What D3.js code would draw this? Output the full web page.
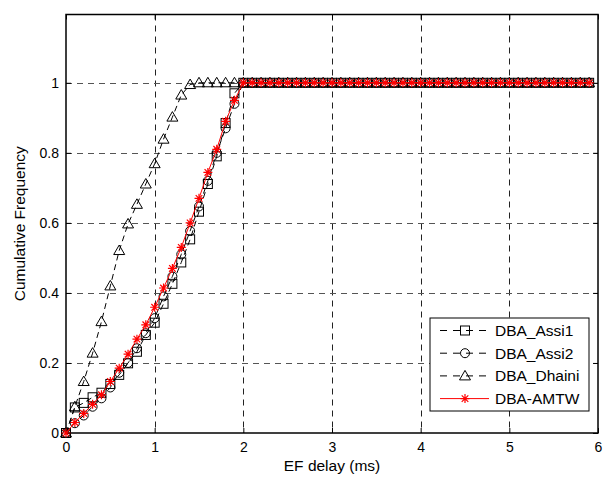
<!DOCTYPE html>
<html>
<head>
<meta charset="utf-8">
<script src="https://cdn.jsdelivr.net/npm/d3@7"></script>
<style>
  body { margin: 0; background: #fff; }
  svg { display: block; }
  text { font-family: "Liberation Sans", Arial, Helvetica, sans-serif; fill: #000; }
</style>
</head>
<body>
<svg id="chart" width="608" height="478"></svg>
<script>
// ---------------- DATA ----------------
const delays = [0,0.1,0.2,0.3,0.4,0.5,0.6,0.7,0.8,0.9,1.0,1.1,1.2,1.3,1.4,1.5,1.6,1.7,1.8,1.9,
                2.0,2.1,2.2,2.3,2.4,2.5,2.6,2.7,2.8,2.9,3.0,3.1,3.2,3.3,3.4,3.5,3.6,3.7,3.8,3.9,
                4.0,4.1,4.2,4.3,4.4,4.5,4.6,4.7,4.8,4.9,5.0,5.1,5.2,5.3,5.4,5.5,5.6,5.7,5.8,5.9];

const assi1 = [0,0.073,0.086,0.102,0.115,0.14,0.166,0.199,0.232,0.28,0.315,0.369,0.426,0.487,0.553,0.632,0.711,0.79,0.885,0.97,
               1,1,1,1,1,1,1,1,1,1,1,1,1,1,1,1,1,1,1,1,
               1,1,1,1,1,1,1,1,1,1,1,1,1,1,1,1,1,1,1,1];
const assi2 = [0,0.028,0.05,0.075,0.099,0.13,0.172,0.2,0.242,0.285,0.328,0.39,0.447,0.51,0.577,0.647,0.72,0.8,0.87,0.94,
               1,1,1,1,1,1,1,1,1,1,1,1,1,1,1,1,1,1,1,1,
               1,1,1,1,1,1,1,1,1,1,1,1,1,1,1,1,1,1,1,1];
const dhaini = [0,0.075,0.147,0.228,0.318,0.42,0.521,0.597,0.653,0.711,0.769,0.839,0.902,0.965,0.995,1,1,1,1,1,
                1,1,1,1,1,1,1,1,1,1,1,1,1,1,1,1,1,1,1,1,
                1,1,1,1,1,1,1,1,1,1,1,1,1,1,1,1,1,1,1,1];
const amtw = [0,0.03,0.056,0.082,0.109,0.147,0.185,0.225,0.268,0.309,0.359,0.414,0.47,0.53,0.6,0.67,0.744,0.81,0.89,0.95,
              1,1,1,1,1,1,1,1,1,1,1,1,1,1,1,1,1,1,1,1,
              1,1,1,1,1,1,1,1,1,1,1,1,1,1,1,1,1,1,1,1];

const seriesNames = ["DBA_Assi1", "DBA_Assi2", "DBA_Dhaini", "DBA-AMTW"];
const xTicks = [0,1,2,3,4,5,6];
const yTicks = [0,0.2,0.4,0.6,0.8,1];
const xLabel = "EF delay (ms)";
const yLabel = "Cumulative Frequency";

// ---------------- LAYOUT ----------------
const L = 66, R = 598, T = 14.5, B = 433;
const svg = d3.select("#chart");
const x = d3.scaleLinear().domain([0, 6]).range([L, R]);
const y = d3.scaleLinear().domain([0, 1.195]).range([B, T]);

// grid
const grid = svg.append("g");
grid.selectAll("line.gx").data(xTicks.filter(t => t > 0 && t < 6)).join("line")
  .attr("x1", d => Math.round(x(d)) + 0.5).attr("x2", d => Math.round(x(d)) + 0.5)
  .attr("y1", T).attr("y2", B)
  .attr("stroke", "#222").attr("stroke-width", 1).attr("stroke-dasharray", "6,5");
grid.selectAll("line.gy").data(yTicks.filter(t => t > 0)).join("line")
  .attr("x1", L).attr("x2", R)
  .attr("y1", d => Math.round(y(d)) + 0.5).attr("y2", d => Math.round(y(d)) + 0.5)
  .attr("stroke", "#555").attr("stroke-width", 1).attr("stroke-dasharray", "6,5");

// axes (ticks inward)
const tickLen = 5;
const axB = svg.append("g").attr("transform", `translate(0,${B})`)
  .call(d3.axisBottom(x).tickValues(xTicks).tickSize(-tickLen).tickPadding(9).tickFormat(d3.format("d")));
const axT = svg.append("g").attr("transform", `translate(0,${T})`)
  .call(d3.axisTop(x).tickValues(xTicks).tickSize(-tickLen).tickFormat(""));
const axL = svg.append("g").attr("transform", `translate(${L},0)`)
  .call(d3.axisLeft(y).tickValues(yTicks).tickSize(-tickLen).tickPadding(7).tickFormat(d => d === 0 ? "0" : (d === 1 ? "1" : d3.format(".1f")(d))));
const axR = svg.append("g").attr("transform", `translate(${R},0)`)
  .call(d3.axisRight(y).tickValues(yTicks).tickSize(-tickLen).tickFormat(""));
[axB, axT, axL, axR].forEach(a => {
  a.select(".domain").remove();
  a.selectAll(".tick line").attr("stroke", "#000").attr("stroke-width", 1);
  a.selectAll(".tick text").style("font-size", "14px").style("font-family", "'Liberation Sans', Arial, sans-serif");
});

// frame
svg.append("rect").attr("x", L).attr("y", T).attr("width", R - L).attr("height", B - T)
  .attr("fill", "none").attr("stroke", "#000").attr("stroke-width", 1.5);

// labels
svg.append("text").attr("x", (L + R) / 2).attr("y", 471).attr("text-anchor", "middle")
  .style("font-size", "15.5px").text(xLabel);
svg.append("text").attr("transform", `translate(25,${(T + B) / 2}) rotate(-90)`)
  .attr("text-anchor", "middle").style("font-size", "15.5px").text(yLabel);

// ---------------- SERIES ----------------
const series = [
  { name: seriesNames[0], values: assi1, color: "#000", dash: "6,4", marker: "square" },
  { name: seriesNames[1], values: assi2, color: "#000", dash: "6,4", marker: "circle" },
  { name: seriesNames[2], values: dhaini, color: "#000", dash: "6,4", marker: "triangle" },
  { name: seriesNames[3], values: amtw, color: "#ff0000", dash: null, marker: "star" }
];

function drawMarker(g, type, cx, cy, color) {
  if (type === "square") {
    g.append("rect").attr("x", cx - 4.5).attr("y", cy - 4.5).attr("width", 9).attr("height", 9)
      .attr("fill", "none").attr("stroke", color).attr("stroke-width", 1);
  } else if (type === "circle") {
    g.append("circle").attr("cx", cx).attr("cy", cy).attr("r", 4.5)
      .attr("fill", "none").attr("stroke", color).attr("stroke-width", 1);
  } else if (type === "triangle") {
    g.append("path").attr("d", `M${cx},${cy - 5.5}L${cx + 5.5},${cy + 4}L${cx - 5.5},${cy + 4}Z`)
      .attr("fill", "none").attr("stroke", color).attr("stroke-width", 1);
  } else if (type === "star") {
    const s = 4.5, d = 3.3;
    g.append("path").attr("d",
      `M${cx - s},${cy}L${cx + s},${cy}M${cx},${cy - s}L${cx},${cy + s}` +
      `M${cx - d},${cy - d}L${cx + d},${cy + d}M${cx - d},${cy + d}L${cx + d},${cy - d}`)
      .attr("fill", "none").attr("stroke", color).attr("stroke-width", 1.2);
  }
}

const line = d3.line().x((d, i) => x(delays[i])).y(d => y(d));
const plot = svg.append("g");
series.forEach(s => {
  const g = plot.append("g");
  g.append("path").datum(s.values).attr("d", line)
    .attr("fill", "none").attr("stroke", s.color).attr("stroke-width", 1)
    .attr("stroke-dasharray", s.dash);
  const mg = g.append("g");
  s.values.forEach((v, i) => drawMarker(mg, s.marker, x(delays[i]), y(v), s.color));
});

// ---------------- LEGEND ----------------
const lg = svg.append("g");
const lx = 430, ly = 318, lw = 159, lh = 93;
lg.append("rect").attr("x", lx).attr("y", ly).attr("width", lw).attr("height", lh)
  .attr("fill", "#fff").attr("stroke", "#000").attr("stroke-width", 1);
series.forEach((s, i) => {
  const cy = ly + 12.5 + i * 22.7;
  lg.append("line").attr("x1", lx + 10).attr("x2", lx + 59).attr("y1", cy).attr("y2", cy)
    .attr("stroke", s.color).attr("stroke-width", 1).attr("stroke-dasharray", s.dash ? "7,6" : null);
  drawMarker(lg, s.marker, lx + 35, cy, s.color);
  lg.append("text").attr("x", lx + 65).attr("y", cy).attr("dy", "0.36em")
    .style("font-size", "15.5px").text(s.name);
});
</script>
</body>
</html>
